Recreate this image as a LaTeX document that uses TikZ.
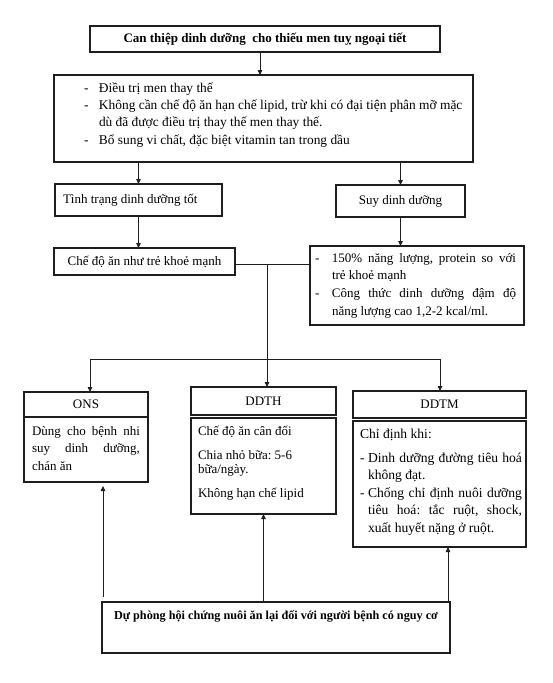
\documentclass[tikz,border=0pt]{standalone}
\usepackage{fontspec}
\setmainfont{Liberation Serif}
\usetikzlibrary{arrows.meta}
\definecolor{ink}{RGB}{30,30,30}
\frenchspacing
\newcommand\mystrut{\rule{0pt}{12pt}}
\newcommand\cbox[6]{\parbox[c][#2pt][#3]{#1pt}{\leftskip=#4pt\rightskip=#5pt\relax#6}}
\newcommand\ditem[2]{\par\hangindent=#1pt\hangafter=1\noindent\makebox[#1pt][l]{-}#2\par}
\begin{document}
\begin{tikzpicture}[x=1pt,y=-1pt,
  box/.style={draw=ink, line width=1.1pt, anchor=north west, inner sep=0pt, outer sep=0pt, font=\fontsize{13}{17.3}\selectfont},
  conn/.style={draw=ink, line width=0.8pt},
  arr/.style={conn, -{Triangle[length=5pt,width=4.5pt]}}]
\fill[white] (0,0) rectangle (552,683);
\useasboundingbox (0,0) rectangle (552,683);

\node[box, minimum width=350pt, minimum height=26pt] (title) at (90,26) {\bfseries Can thiệp dinh dưỡng\ \ cho thiếu men tuỵ ngoại tiết};

\node[box, minimum width=419pt, minimum height=87pt] (box2) at (54,75) {\cbox{419}{87}{t}{30}{0}{\fontsize{13.4}{17.4}\selectfont\vspace*{5pt}\ditem{15}{\mystrut Điều trị men thay thế}\ditem{15}{Không cần chế độ ăn hạn chế lipid, trừ khi có đại tiện phân mỡ mặc\newline dù đã được điều trị thay thế men thay thế.}\ditem{15}{Bổ sung vi chất, đặc biệt vitamin tan trong dầu}}};

\node[box, minimum width=167pt, minimum height=32pt] (tinh) at (55,184) {\cbox{167}{32}{c}{8}{0}{Tình trạng dinh dưỡng tốt}};
\node[box, minimum width=129pt, minimum height=32pt] (suy) at (336,185) {Suy dinh dưỡng};
\node[box, minimum width=181pt, minimum height=27pt] (che) at (54,248) {Chế độ ăn như trẻ khoẻ mạnh};

\node[box, minimum width=214pt, minimum height=79pt] (rb) at (310,246) {\cbox{214}{79}{t}{5}{8}{\fontsize{13}{17.8}\selectfont\vspace*{4pt}\ditem{17}{\mystrut 150\% năng lượng, protein so với\linebreak trẻ khoẻ mạnh}\ditem{17}{Công thức dinh dưỡng đậm độ\linebreak năng lượng cao 1,2-2 kcal/ml.}}};

\node[box, minimum width=124pt, minimum height=25pt] (onsh) at (24,392) {ONS};
\node[box, minimum width=124pt, minimum height=65pt] (onsb) at (24,417) {\cbox{124}{65}{t}{8}{8}{\fontsize{13}{17.5}\selectfont\vspace*{6pt}\mystrut Dùng cho bệnh nhi\linebreak suy dinh dưỡng,\linebreak chán ăn}};

\node[box, minimum width=145pt, minimum height=28pt] (ddthh) at (191,387) {DDTH};
\node[box, minimum width=145pt, minimum height=96pt] (ddthb) at (191,418) {\cbox{145}{96}{t}{7}{4}{\fontsize{13}{13.8}\selectfont\vspace*{5pt}\mystrut Chế độ ăn cân đối\parskip=10.5pt\par Chia nhỏ bữa: 5-6\newline bữa/ngày.\par Không hạn chế lipid}};

\node[box, minimum width=173pt, minimum height=27pt] (ddtmh) at (353,391) {DDTM};
\node[box, minimum width=173pt, minimum height=126pt] (ddtmb) at (353,421) {\cbox{173}{126}{t}{7}{4}{\fontsize{13.6}{17.5}\selectfont\vspace*{5pt}\mystrut Chỉ định khi:\parskip=6.5pt\par\ditem{8}{Dinh dưỡng đường tiêu hoá\linebreak không đạt.}\parskip=0pt\ditem{8}{Chống chỉ định nuôi dưỡng\linebreak tiêu hoá: tắc ruột, shock,\linebreak xuất huyết nặng ở ruột.}}};

\node[box, minimum width=348pt, minimum height=51pt] (bot) at (102,602) {\cbox{348}{51}{t}{0}{0}{\centering\fontsize{12.2}{16}\selectfont\bfseries\vspace*{5pt}\mystrut Dự phòng hội chứng nuôi ăn lại đối với người bệnh có nguy cơ}};

% connectors
\draw[arr] ([xshift=-5pt]title.south) -- ([xshift=-5pt]title.south |- box2.north);
\draw[arr] (tinh.north |- box2.south) -- (tinh.north);
\draw[arr] (suy.north |- box2.south) -- (suy.north);
\draw[arr] (tinh.south) -- (tinh.south |- che.north);
\draw[arr] (suy.south) -- (suy.south |- rb.north);
\draw[conn] ([yshift=-2.5pt]che.east) -- ([yshift=-2.5pt]che.east -| rb.west);
\coordinate (j) at (267,264);
\coordinate (bus) at (267,359);
\coordinate (b1) at (90,359);
\coordinate (b3) at (440,359);
\draw[conn] (j) -- (bus);
\draw[conn] (b1) -- (b3);
\draw[arr] (b1) -- (b1 |- onsh.north);
\draw[arr] (bus) -- (bus |- ddthh.north);
\draw[arr] (b3) -- (b3 |- ddtmh.north);
\draw[arr, shorten <=5pt, shorten >=4pt] ([xshift=1pt]bot.north west) -- ([xshift=1pt]bot.north west |- onsb.south);
\draw[arr] (ddthb.south |- bot.north) -- (ddthb.south);
\draw[arr] ([xshift=-2pt]bot.north east) -- ([xshift=-2pt]bot.north east |- ddtmb.south);
\end{tikzpicture}
\end{document}
